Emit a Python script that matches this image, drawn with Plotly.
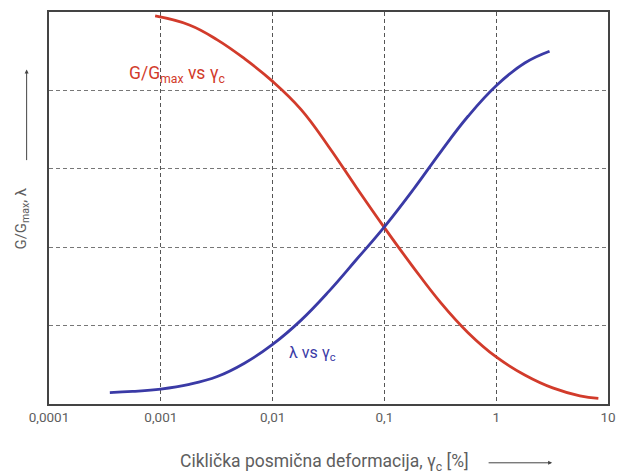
import plotly.graph_objects as go

# Data (x: cyclic shear strain in %, y: normalised 0..1)
strain_g = [0.00089, 0.0018, 0.0032, 0.0056, 0.01, 0.018, 0.032, 0.056,
            0.1, 0.18, 0.32, 0.56, 1.0, 1.8, 3.2, 5.6, 8.2]
g_ratio = [0.99, 0.967, 0.929, 0.881, 0.823, 0.751, 0.655, 0.553,
           0.45, 0.35, 0.258, 0.182, 0.12, 0.074, 0.041, 0.021, 0.0144]

strain_l = [0.00035, 0.00056, 0.001, 0.0018, 0.0032, 0.0056, 0.01, 0.018, 0.032,
            0.056, 0.1, 0.18, 0.32, 0.56, 1.0, 1.8, 3.0]
damping = [0.029, 0.032, 0.038, 0.05, 0.07, 0.104, 0.152, 0.214, 0.288,
           0.368, 0.452, 0.546, 0.644, 0.734, 0.812, 0.87, 0.9]

tick_vals = [0.0001, 0.001, 0.01, 0.1, 1, 10]
tick_text = ["0,0001", "0,001", "0,01", "0,1", "1", "10"]

RED = "#d23b2b"
BLUE = "#3a3aa6"
TXT = "#5e5e5e"
FONT = "Roboto"

fig = go.Figure()
fig.add_trace(go.Scatter(x=strain_g, y=g_ratio, mode="lines",
                         line=dict(color=RED, width=2.8, shape="spline", smoothing=1.2),
                         showlegend=False, hoverinfo="skip"))
fig.add_trace(go.Scatter(x=strain_l, y=damping, mode="lines",
                         line=dict(color=BLUE, width=2.8, shape="spline", smoothing=1.2),
                         showlegend=False, hoverinfo="skip"))

fig.update_layout(
    width=614, height=466,
    margin=dict(l=41, r=14, t=2, b=70),
    paper_bgcolor="white", plot_bgcolor="white",
    font=dict(family=FONT, color=TXT, size=13),
    xaxis=dict(type="log", range=[-4, 1], tickvals=tick_vals, ticktext=tick_text,
               showgrid=True, gridcolor="#555555", griddash="4px,3px", gridwidth=1,
               showline=True, linecolor="#444444", linewidth=2, mirror=True,
               ticks="", tickfont=dict(size=13.5, color=TXT), zeroline=False),
    yaxis=dict(range=[0, 1], tickvals=[0.2, 0.4, 0.6, 0.8], showticklabels=False,
               showgrid=True, gridcolor="#777777", griddash="4px,3px", gridwidth=1,
               showline=True, linecolor="#444444", linewidth=2, mirror=True,
               ticks="", zeroline=False),
)

# Curve labels
fig.add_annotation(x=-2.85, y=0.84, xref="x", yref="y", showarrow=False,
                   text="G/G<sub>max</sub> vs γ<sub>c</sub>",
                   font=dict(color=RED, size=17.5, family=FONT))
fig.add_annotation(x=-1.64, y=0.13, xref="x", yref="y", showarrow=False,
                   text="λ vs γ<sub>c</sub>",
                   font=dict(color=BLUE, size=16, family=FONT))

# Axis titles
fig.add_annotation(x=0.493, y=-0.15, xref="paper", yref="paper", showarrow=False,
                   text="Ciklička posmična deformacija, γ<sub>c</sub> [%]",
                   font=dict(size=17.5, color=TXT, family=FONT), yanchor="middle")
fig.add_annotation(x=0.9, y=-0.15, xref="paper", yref="paper", text="",
                   showarrow=True, ax=-65, ay=0, arrowhead=2, arrowsize=0.8,
                   arrowwidth=1, arrowcolor="#444444")
fig.add_annotation(x=-0.049, y=0.472, xref="paper", yref="paper", showarrow=False,
                   text="G/G<sub>max</sub>, λ", textangle=-90,
                   font=dict(size=15, color=TXT, family=FONT),
                   xanchor="center", yanchor="middle")
fig.add_annotation(x=-0.04, y=0.853, xref="paper", yref="paper", text="",
                   showarrow=True, ax=0, ay=92, arrowhead=2, arrowsize=0.8,
                   arrowwidth=1, arrowcolor="#444444")

fig.write_html("out.html")
